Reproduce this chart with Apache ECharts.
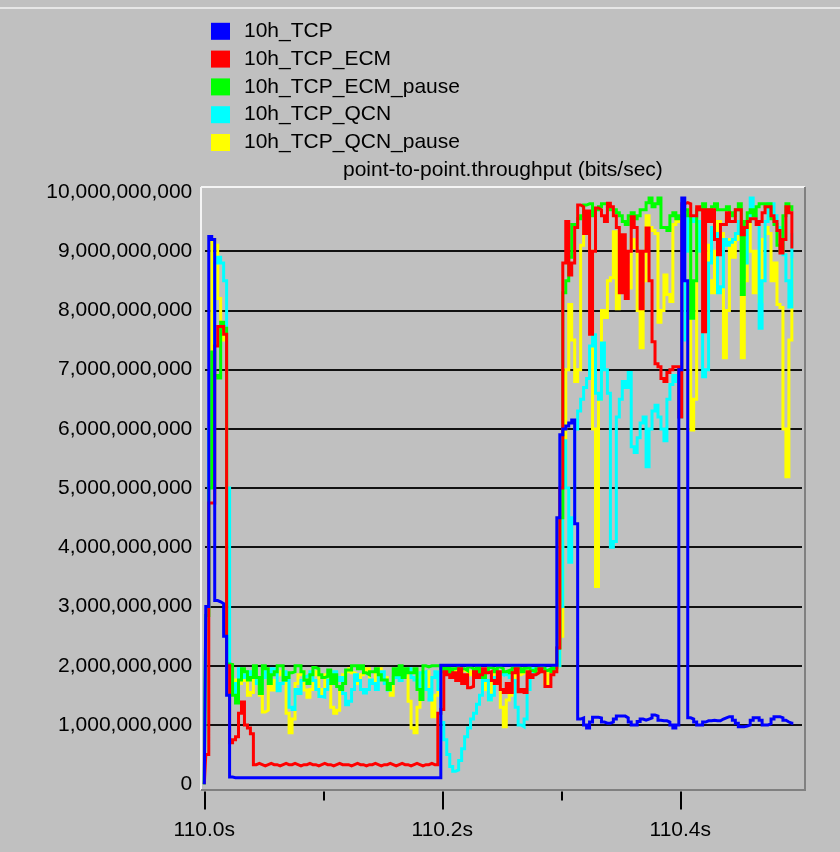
<!DOCTYPE html>
<html>
<head>
<meta charset="utf-8">
<script src="https://cdn.jsdelivr.net/npm/echarts@6/dist/echarts.min.js"></script>
<style>
  html, body { margin: 0; padding: 0; background: #c0c0c0; }
  #chart { width: 840px; height: 852px; }
</style>
</head>
<body>
<div id="chart"></div>
<script>
// Sampling grid of the throughput statistic (seconds)
const START_TIME = 110.0;
const SAMPLE_STEP = 0.0025;

const seriesNames = ['10h_TCP', '10h_TCP_ECM', '10h_TCP_ECM_pause', '10h_TCP_QCN', '10h_TCP_QCN_pause'];
const seriesColors = ['#0000ff', '#ff0000', '#00ff00', '#00ffff', '#ffff00'];

// Throughput samples, Gbit/s
const tcp = [
  0, 3.0, 9.25, 9.2, 3.1, 3.08, 3.05, 2.5, 1.5, 0.12,
  0.11, 0.11, 0.11, 0.11, 0.11, 0.11, 0.11, 0.11, 0.11, 0.11,
  0.11, 0.11, 0.11, 0.11, 0.11, 0.11, 0.11, 0.11, 0.11, 0.11,
  0.11, 0.11, 0.11, 0.11, 0.11, 0.11, 0.11, 0.11, 0.11, 0.11,
  0.11, 0.11, 0.11, 0.11, 0.11, 0.11, 0.11, 0.11, 0.11, 0.11,
  0.11, 0.11, 0.11, 0.11, 0.11, 0.11, 0.11, 0.11, 0.11, 0.11,
  0.11, 0.11, 0.11, 0.11, 0.11, 0.11, 0.11, 0.11, 0.11, 0.11,
  0.11, 0.11, 0.11, 0.11, 0.11, 0.11, 0.11, 0.11, 0.11, 0.11,
  2.01, 2.01, 2.01, 2.01, 2.01, 2.01, 2.01, 2.01, 2.01, 2.01,
  2.01, 2.01, 2.01, 2.01, 2.01, 2.01, 2.01, 2.01, 2.01, 2.01,
  2.01, 2.01, 2.01, 2.01, 2.01, 2.01, 2.01, 2.01, 2.01, 2.01,
  2.01, 2.01, 2.01, 2.01, 2.01, 2.01, 2.01, 2.01, 2.01, 4.5,
  5.9, 6.0, 6.05, 6.1, 6.15, 4.4, 1.1, 1.12, 1.0, 0.95,
  1.05, 1.13, 1.13, 1.12, 1.05, 1.03, 1.03, 1.05, 1.1, 1.15,
  1.15, 1.15, 1.12, 1.05, 1.0, 1.0, 1.06, 1.1, 1.08, 1.1,
  1.12, 1.17, 1.15, 1.08, 1.07, 1.07, 1.05, 1.0, 0.95, 1.0,
  7.0, 9.9, 8.5, 1.12, 1.1, 1.05, 1.0, 1.0, 1.05, 1.07,
  1.07, 1.08, 1.07, 1.07, 1.1, 1.12, 1.14, 1.14, 1.08, 1.03,
  0.97, 0.97, 0.98, 1.0, 1.08, 1.12, 1.12, 1.08, 1.0, 1.0,
  1.02, 1.1, 1.14, 1.14, 1.12, 1.08, 1.05, 1.03, 1.03
];

const tcpEcm = [
  0, 0.5, 4.75, 4.75, 7.4, 7.73, 7.73, 7.6, 2.0, 0.7,
  0.75, 0.8, 1.2, 1.39, 1.0, 0.95, 0.85, 0.33, 0.35, 0.33,
  0.31, 0.33, 0.35, 0.33, 0.33, 0.31, 0.33, 0.35, 0.33, 0.33,
  0.35, 0.33, 0.31, 0.33, 0.33, 0.35, 0.33, 0.33, 0.31, 0.33,
  0.35, 0.33, 0.33, 0.31, 0.33, 0.35, 0.33, 0.33, 0.33, 0.31,
  0.33, 0.35, 0.33, 0.33, 0.31, 0.33, 0.33, 0.35, 0.33, 0.31,
  0.33, 0.33, 0.35, 0.33, 0.31, 0.33, 0.35, 0.33, 0.33, 0.31,
  0.33, 0.35, 0.33, 0.31, 0.33, 0.33, 0.35, 0.33, 0.33, 1.2,
  1.26, 1.9, 1.85, 1.8, 1.88, 1.75, 1.95, 1.7, 1.85, 1.63,
  1.65, 1.9, 1.8, 1.85, 1.95, 1.88, 1.9, 1.75, 1.7, 1.9,
  1.6, 1.55, 1.7, 1.55, 1.88, 1.95, 1.56, 1.6, 1.55, 1.9,
  1.8, 1.85, 1.88, 1.95, 1.9, 1.65, 1.65, 1.85, 1.9, 2.3,
  5.0, 8.8, 9.5, 8.6, 8.8, 9.4, 9.78, 9.75, 9.3, 9.68,
  7.6, 9.0, 9.73, 9.7, 9.6, 9.5, 9.81, 9.75, 9.6, 9.4,
  8.3, 9.28, 8.2, 9.0, 9.58, 9.4, 9.0, 8.03, 9.0, 9.39,
  8.5, 7.47, 7.1, 7.05, 6.85, 6.8, 6.95, 7.0, 7.05, 7.05,
  6.2, 9.8, 9.82, 9.8, 9.6, 9.6, 9.75, 9.7, 7.64, 9.7,
  9.5, 9.7, 9.2, 8.94, 9.45, 9.45, 9.65, 9.5, 9.5, 9.7,
  9.7, 9.28, 9.4, 9.5, 9.55, 9.55, 9.45, 9.5, 9.65, 9.75,
  9.75, 9.6, 9.5, 9.35, 8.97, 9.2, 9.75, 9.65, 9.07
];

const tcpEcmPause = [
  0, 2.85, 5.0, 7.3, 6.9, 6.86, 7.8, 7.7, 2.03, 2.02,
  1.5, 1.37, 1.76, 1.95, 1.9, 1.76, 1.8, 2.0, 1.8, 1.53,
  2.0, 1.95, 1.7, 1.85, 1.9, 2.0, 2.0, 1.76, 1.8, 1.88,
  1.9, 2.0, 2.0, 1.9, 1.76, 1.7, 1.85, 1.97, 1.95, 1.85,
  1.8, 1.82, 1.93, 1.7, 1.85, 1.65, 1.6, 1.7, 1.93, 1.93,
  2.0, 2.0, 1.95, 2.0, 1.88, 1.85, 1.9, 1.9, 1.95, 1.85,
  1.76, 1.76, 1.6, 1.7, 1.95, 1.85, 2.0, 1.8, 1.95, 1.88,
  1.88, 1.95, 1.6, 1.43, 2.0, 1.98, 2.0, 2.0, 2.0, 2.0,
  1.96, 1.9, 1.96, 1.88, 1.95, 1.98, 1.9, 1.95, 1.92, 1.98,
  1.95, 1.88, 1.97, 1.85, 1.8, 1.9, 1.97, 1.95, 1.9, 1.98,
  1.95, 1.9, 1.92, 1.88, 1.97, 1.98, 1.95, 1.9, 1.96, 1.98,
  1.92, 1.9, 1.95, 1.98, 1.96, 1.92, 1.95, 1.9, 1.97, 2.3,
  4.5, 8.3, 8.5, 8.9, 9.45, 9.45, 9.55, 9.6, 9.78, 9.8,
  9.8, 9.6, 9.7, 9.75, 9.8, 9.8, 9.75, 9.7, 9.7, 9.65,
  9.6, 9.5, 9.45, 9.6, 9.65, 9.55, 9.6, 9.7, 9.7, 9.82,
  9.9, 9.75, 9.8, 9.9, 9.4, 9.4, 9.35, 9.6, 9.65, 9.55,
  9.6, 9.7, 9.7, 9.6, 7.87, 8.5, 9.7, 9.7, 9.8, 9.7,
  9.65, 9.75, 9.8, 9.7, 9.7, 9.7, 9.75, 9.65, 9.6, 9.7,
  9.8, 8.27, 9.5, 9.65, 9.7, 9.6, 9.75, 9.8, 9.8, 9.75,
  9.8, 9.55, 9.45, 9.1, 9.0, 9.6, 9.8, 9.75, 9.7
];

const tcpQcn = [
  0, 2.85, 6.0, 7.0, 8.8, 8.9, 8.8, 8.5, 5.0, 1.9,
  1.55, 1.7, 1.95, 1.8, 1.85, 1.9, 1.85, 1.95, 1.7, 1.6,
  1.8, 1.9, 1.88, 1.95, 1.93, 1.58, 1.7, 1.9, 1.75, 1.3,
  1.26, 1.6, 1.53, 1.75, 1.82, 1.85, 1.9, 1.75, 1.6, 1.48,
  1.47, 1.6, 1.76, 1.8, 1.9, 1.75, 1.8, 1.53, 1.34, 1.4,
  1.6, 1.85, 1.75, 1.6, 1.54, 1.6, 1.76, 1.7, 1.6, 1.85,
  1.9, 1.7, 1.59, 1.7, 1.8, 1.88, 1.75, 1.85, 1.9, 1.95,
  1.8, 1.76, 1.65, 1.88, 1.9, 1.6, 1.42, 1.8, 1.9, 1.6,
  1.04, 0.75, 0.5, 0.3, 0.22, 0.24, 0.4, 0.6, 0.8, 0.95,
  1.1, 1.2, 1.35, 1.5, 1.8, 1.75, 1.42, 1.5, 1.8, 1.88,
  1.85, 1.9, 1.85, 1.8, 1.75, 1.3, 1.0, 0.97, 1.1, 1.6,
  1.88, 1.95, 1.96, 1.93, 1.95, 1.92, 1.95, 1.95, 1.95, 2.0,
  3.0, 5.8, 5.0, 3.75, 4.5, 6.0, 6.3, 6.5, 6.7, 6.85,
  7.4, 7.59, 6.6, 6.5, 7.45, 7.0, 6.6, 4.0, 4.1, 6.2,
  6.5, 6.8, 6.7, 6.95, 5.7, 5.6, 5.85, 6.1, 6.2, 5.36,
  6.0, 6.3, 6.4, 6.2, 6.0, 5.8, 6.5, 6.75, 6.9, 6.8,
  6.2, 7.5, 9.0, 9.6, 9.5, 9.55, 9.5, 9.0, 6.88, 7.0,
  8.8, 9.4, 9.3, 8.3, 8.4, 9.2, 9.1, 9.15, 9.2, 9.3,
  9.5, 9.0, 8.8, 9.5, 9.9, 9.6, 9.5, 7.7, 8.5, 9.5,
  9.8, 9.8, 9.6, 9.4, 9.3, 8.94, 8.5, 8.06, 9.28
];

const tcpQcnPause = [
  0, 2.85, 6.0, 9.2, 9.1, 8.2, 7.5, 7.6, 2.0, 1.9,
  1.76, 1.65, 1.7, 1.75, 1.85, 1.5, 1.55, 1.9, 1.8, 1.5,
  1.22, 1.25, 1.7, 1.59, 1.75, 1.85, 1.9, 1.8, 1.2, 0.87,
  1.1, 1.7, 1.85, 1.9, 1.59, 1.47, 1.6, 1.85, 1.9, 1.48,
  1.6, 1.85, 1.8, 1.3, 1.2, 1.25, 1.6, 1.85, 1.9, 1.95,
  1.88, 1.85, 1.7, 1.85, 1.9, 1.95, 1.75, 1.7, 1.9, 1.95,
  1.85, 1.8, 1.6, 1.5, 1.8, 1.9, 1.95, 1.9, 1.85, 1.4,
  0.95, 0.87, 1.3, 1.8, 1.85, 1.9, 1.48, 1.14, 1.5, 1.9,
  1.95, 1.9, 1.92, 1.9, 1.88, 1.95, 1.9, 1.93, 1.9, 1.85,
  1.9, 1.92, 1.88, 1.9, 1.85, 1.6, 1.42, 1.7, 1.9, 1.88,
  1.3, 0.97, 1.42, 1.5, 1.8, 1.9, 1.85, 1.88, 1.9, 1.92,
  1.9, 1.88, 1.9, 1.92, 1.9, 1.7, 1.88, 1.9, 1.92, 2.0,
  2.5, 5.0, 7.0, 8.1, 7.5, 6.8, 7.0, 9.1, 9.4, 9.56,
  9.0, 6.0, 3.34, 6.5, 8.0, 7.88, 8.5, 8.55, 9.33, 8.03,
  9.0, 8.8, 8.77, 8.38, 9.2, 9.06, 8.0, 7.37, 8.5, 9.6,
  9.4, 9.35, 9.3, 7.8, 8.0, 8.6, 8.27, 8.15, 9.45, 9.56,
  9.5, 9.6, 9.7, 9.0, 5.98, 6.5, 9.5, 9.0, 9.2, 9.1,
  8.5, 8.3, 9.0, 9.5, 9.3, 7.2, 8.0, 9.2, 8.9, 9.3,
  9.2, 7.2, 8.5, 9.5, 9.0, 8.3, 9.0, 8.15, 9.2, 9.4,
  9.3, 8.5, 8.8, 8.1, 8.05, 6.0, 5.19, 7.5, 8.85
];

const seriesValues = [tcp, tcpEcm, tcpEcmPause, tcpQcn, tcpQcnPause];

const yTickMin = 0, yTickMax = 10e9, yTickStep = 1e9;
const xLabelTicks = { min: 110.0, max: 110.4, step: 0.2 };

const FONT = '"Liberation Sans", Arial, sans-serif';

function withCommas(v) {
  return String(Math.round(v)).replace(/\B(?=(\d{3})+(?!\d))/g, ',');
}

const chart = echarts.init(document.getElementById('chart'), null, { renderer: 'canvas' });

// Each sample is held until the next one, so the traces are drawn as steps
const series = seriesValues.map((vals, k) => ({
  name: seriesNames[k],
  type: 'line',
  step: 'middle',
  xAxisIndex: 0,
  yAxisIndex: 0,
  color: seriesColors[k],
  showSymbol: false,
  symbol: 'none',
  clip: false,
  z: 10 - k,
  lineStyle: { width: 3, color: seriesColors[k], join: 'miter' },
  data: vals.map((v, i) => [START_TIME + i * SAMPLE_STEP, v * 1e9])
}));

const PLOT_L = 201, PLOT_T = 187, PLOT_R = 805, PLOT_B = 790;

chart.setOption({
  animation: false,
  backgroundColor: '#c0c0c0',
  textStyle: { fontFamily: FONT },
  title: {
    text: 'point-to-point.throughput (bits/sec)',
    left: 343, top: 160, padding: 0,
    textStyle: { fontFamily: FONT, fontSize: 21, fontWeight: 'normal', color: '#000' }
  },
  legend: {
    orient: 'vertical',
    left: 211, top: 20.8, padding: 0,
    itemWidth: 19, itemHeight: 17, itemGap: 6.8,
    icon: 'rect',
    selectedMode: false,
    data: seriesNames,
    textStyle: { fontFamily: FONT, fontSize: 21, color: '#000', padding: [0, 0, 0, 9] }
  },
  grid: [
    // data area
    { left: 204.3, width: 595, top: 192, height: 592.2, containLabel: false },
    // horizontal rules 1e9 .. 9e9
    { left: 205, width: 597, top: 251.2, height: 473.6, containLabel: false },
    // time labels and ticks
    { left: 204.3, width: 476, top: 700, bottom: 60.5, containLabel: false }
  ],
  xAxis: [
    { gridIndex: 0, type: 'value', min: 110.0, max: 110.5, show: false },
    { gridIndex: 1, type: 'value', min: 0, max: 1, show: false },
    {
      gridIndex: 2, type: 'value',
      min: xLabelTicks.min, max: xLabelTicks.max, interval: xLabelTicks.step,
      axisLine: { show: false },
      axisTick: { show: true, length: 18, lineStyle: { color: '#000', width: 2 } },
      minorTick: { show: true, splitNumber: 2, length: 9, lineStyle: { color: '#000', width: 2 } },
      splitLine: { show: false },
      axisLabel: {
        margin: 28, fontSize: 21, color: '#000', fontFamily: FONT,
        formatter: v => v.toFixed(1) + 's'
      }
    }
  ],
  yAxis: [
    {
      gridIndex: 0, type: 'value',
      min: yTickMin, max: yTickMax, interval: yTickStep,
      axisLine: { show: false }, axisTick: { show: false }, splitLine: { show: false },
      axisLabel: { margin: 12, fontSize: 21, color: '#000', fontFamily: FONT, formatter: withCommas }
    },
    {
      gridIndex: 1, type: 'value',
      min: yTickMin + yTickStep, max: yTickMax - yTickStep, interval: yTickStep,
      axisLine: { show: false }, axisTick: { show: false }, axisLabel: { show: false },
      splitLine: { show: true, lineStyle: { color: '#111', width: 2 } }
    },
    { gridIndex: 2, type: 'value', show: false }
  ],
  graphic: [
    // window edge
    { type: 'line', shape: { x1: 0, y1: 8, x2: 840, y2: 8 }, style: { stroke: '#e6e6e6', lineWidth: 2 }, silent: true },
    // sunken plot frame
    { type: 'line', shape: { x1: PLOT_L, y1: PLOT_T, x2: PLOT_R, y2: PLOT_T }, style: { stroke: '#f4f4f4', lineWidth: 2 }, silent: true },
    { type: 'line', shape: { x1: PLOT_L, y1: PLOT_T, x2: PLOT_L, y2: PLOT_B }, style: { stroke: '#f4f4f4', lineWidth: 2 }, silent: true },
    { type: 'line', shape: { x1: PLOT_R, y1: PLOT_T, x2: PLOT_R, y2: PLOT_B + 1 }, style: { stroke: '#808080', lineWidth: 2 }, silent: true },
    { type: 'line', shape: { x1: PLOT_L, y1: PLOT_B, x2: PLOT_R, y2: PLOT_B }, style: { stroke: '#808080', lineWidth: 2 }, silent: true }
  ],
  series: series
});
</script>
</body>
</html>
